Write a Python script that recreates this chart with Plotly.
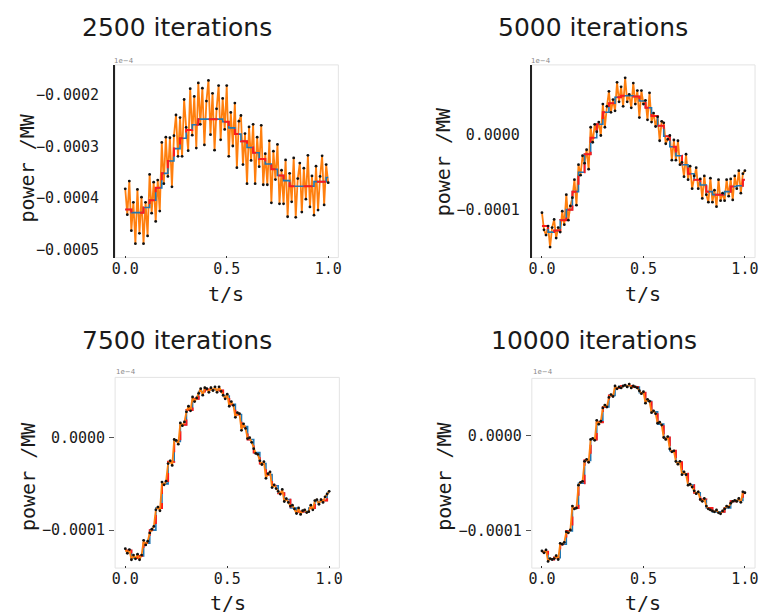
import plotly.graph_objects as go

# ---------------- data (power in 1e-6 MW units) ----------------
T = [0.00, 0.01, 0.02, 0.03, 0.04, 0.05, 0.06, 0.07, 0.08, 0.09,
     0.10, 0.11, 0.12, 0.13, 0.14, 0.15, 0.16, 0.17, 0.18, 0.19,
     0.20, 0.21, 0.22, 0.23, 0.24, 0.25, 0.26, 0.27, 0.28, 0.29,
     0.30, 0.31, 0.32, 0.33, 0.34, 0.35, 0.36, 0.37, 0.38, 0.39,
     0.40, 0.41, 0.42, 0.43, 0.44, 0.45, 0.46, 0.47, 0.48, 0.49,
     0.50, 0.51, 0.52, 0.53, 0.54, 0.55, 0.56, 0.57, 0.58, 0.59,
     0.60, 0.61, 0.62, 0.63, 0.64, 0.65, 0.66, 0.67, 0.68, 0.69,
     0.70, 0.71, 0.72, 0.73, 0.74, 0.75, 0.76, 0.77, 0.78, 0.79,
     0.80, 0.81, 0.82, 0.83, 0.84, 0.85, 0.86, 0.87, 0.88, 0.89,
     0.90, 0.91, 0.92, 0.93, 0.94, 0.95, 0.96, 0.97, 0.98, 0.99,
     1.00]

TRUE_2500_UW = [-422, -422, -422, -428, -428, -428, -428, -428, -428, -418,
                -418, -418, -404, -404, -404, -380, -380, -380, -352, -352,
                -352, -328, -328, -328, -304, -304, -304, -284, -284, -284,
                -268, -268, -268, -258, -258, -258, -247, -247, -247, -247,
                -247, -247, -247, -247, -247, -247, -247, -247, -252, -252,
                -252, -264, -264, -264, -276, -276, -276, -290, -290, -290,
                -302, -302, -302, -312, -312, -312, -324, -324, -324, -334,
                -334, -334, -344, -344, -344, -356, -356, -356, -366, -366,
                -366, -377, -377, -377, -377, -377, -377, -377, -377, -377,
                -377, -377, -377, -368, -368, -368, -368, -368, -368, -360,
                -360]

NOISY_2500_UW = [-382, -432, -367, -463, -408, -488, -383, -468, -398, -488,
                 -408, -473, -354, -429, -369, -445, -365, -425, -292, -372,
                 -282, -358, -283, -378, -279, -239, -319, -244, -319, -209,
                 -263, -308, -188, -278, -203, -303, -177, -257, -187, -297,
                 -212, -172, -277, -197, -307, -227, -182, -287, -207, -267,
                 -182, -319, -234, -299, -216, -341, -251, -240, -335, -275,
                 -372, -262, -327, -257, -372, -282, -339, -259, -374, -314,
                 -374, -289, -409, -309, -364, -296, -411, -346, -411, -326,
                 -436, -352, -407, -322, -437, -362, -332, -427, -342, -402,
                 -317, -417, -357, -433, -338, -423, -358, -318, -413, -335,
                 -370]

TRUE_UW = [-122, -122, -122, -130, -130, -130, -128, -128, -128, -114,
           -114, -114, -100, -100, -100, -76, -76, -76, -50, -50,
           -50, -26, -26, -26, -4, -4, -4, 14, 14, 14,
           30, 30, 30, 42, 42, 42, 50, 50, 50, 52,
           52, 52, 52, 52, 52, 51, 51, 51, 45, 45,
           45, 36, 36, 36, 25, 25, 25, 12, 12, 12,
           -2, -2, -2, -16, -16, -16, -28, -28, -28, -40,
           -40, -40, -52, -52, -52, -60, -60, -60, -67, -67,
           -67, -76, -76, -76, -80, -80, -80, -80, -80, -80,
           -76, -76, -76, -69, -69, -69, -68, -68, -68, -60,
           -60]

NOISY_5000_UW = [-104, -127, -134, -122, -150, -124, -113, -138, -124, -130,
                 -102, -120, -80, -114, -95, -84, -60, -94, -40, -54,
                 -28, -38, -20, -46, 10, -10, 14, 4, 17, -1,
                 41, 10, 38, 58, 30, 47, 32, 70, 44, 64,
                 38, 76, 44, 54, 36, 69, 41, 59, 23, 59,
                 41, 46, 20, 56, 17, 29, 11, 24, -8, 18,
                 16, -12, -6, -1, -34, -7, -34, -8, -40, -37,
                 -56, -26, -60, -42, -72, -55, -44, -72, -59, -85,
                 -55, -80, -90, -58, -90, -74, -96, -60, -88, -78,
                 -88, -60, -82, -59, -87, -55, -72, -48, -78, -52,
                 -48]

NOISY_7500_UW = [-120, -125, -121, -132, -127, -131, -126, -132, -127, -111,
                 -116, -112, -103, -99, -96, -78, -75, -79, -48, -51,
                 -47, -28, -25, -30, -2, -3, -7, 16, 13, 17,
                 28, 34, 29, 44, 39, 43, 48, 53, 46, 54,
                 53, 49, 54, 51, 55, 49, 55, 50, 46, 42,
                 47, 34, 39, 35, 22, 27, 26, 8, 15, 10,
                 -1, 0, -5, -12, -17, -18, -25, -29, -26, -44,
                 -39, -37, -54, -51, -55, -58, -61, -56, -69, -66,
                 -70, -74, -73, -77, -82, -76, -83, -79, -78, -81,
                 -80, -73, -78, -68, -67, -72, -67, -70, -64, -61,
                 -58]

NOISY_10000_UW = [-121, -123, -120, -132, -129, -130, -129, -126, -130, -113,
                  -114, -112, -101, -102, -99, -74, -77, -76, -52, -49,
                  -48, -27, -25, -28, -4, -3, -5, 16, 12, 15,
                  29, 32, 30, 40, 43, 41, 52, 49, 51, 50,
                  52, 53, 51, 54, 50, 52, 51, 50, 47, 44,
                  46, 34, 38, 36, 24, 26, 23, 13, 14, 11,
                  -2, -4, -1, -14, -17, -16, -27, -30, -27, -41,
                  -38, -41, -52, -51, -54, -58, -61, -59, -67, -69,
                  -66, -74, -77, -78, -79, -80, -78, -81, -82, -79,
                  -77, -74, -75, -71, -69, -68, -69, -66, -70, -59,
                  -60]

TITLES = ["2500 iterations", "5000 iterations", "7500 iterations", "10000 iterations"]
Y_TICKS = [[-0.0002, -0.0003, -0.0004, -0.0005], [0.0, -0.0001], [0.0, -0.0001], [0.0, -0.0001]]
X_TICKS = [0.0, 0.5, 1.0]
X_LABEL = "t/s"
Y_LABEL = "power /MW"
OFFSET_TEXT = "1e\u22124"

for arr in (TRUE_2500_UW, NOISY_2500_UW, TRUE_UW, NOISY_5000_UW, NOISY_7500_UW, NOISY_10000_UW):
    assert len(arr) == len(T), len(arr)

UNIT = 1e-6
series = [
    (TRUE_2500_UW, NOISY_2500_UW),
    (TRUE_UW, NOISY_5000_UW),
    (TRUE_UW, NOISY_7500_UW),
    (TRUE_UW, NOISY_10000_UW),
]

# ---------------- layout geometry (pixels) ----------------
W, H = 764, 614
boxes = [  # x0, x1, ytop, ybottom
    (113, 338, 65, 258),
    (533, 758, 65, 258),
    (113, 339, 378, 569),
    (533, 758, 379, 569),
]
y_ranges = [(-0.000515, -0.000142), (-0.000164, 0.0000933), (-0.000141, 0.0000652), (-0.000139, 0.0000600)]
title_pos = [(175, 28), (595, 28), (175, 341), (596, 341)]
ylabel_pos = [(24, 168), (443, 162), (25, 477), (445, 477)]
xlabel_pos = [(225, 294), (645, 294), (227, 604), (645, 604)]
offset_pos = [(122, 61), (542, 61), (124, 373), (544, 373)]

fig = go.Figure()
annotations = []
shapes = []

for i, ((tr, nz), (x0, x1, yt, yb)) in enumerate(zip(series, boxes)):
    k = "" if i == 0 else str(i + 1)
    xa, ya = "x" + k, "y" + k
    true_v = [v * UNIT for v in tr]
    noisy_v = [v * UNIT for v in nz]

    true_traces = [
        go.Scatter(x=T, y=true_v, mode="lines", line=dict(color="#1f77b4", width=1.6, shape="hv"),
                   xaxis=xa, yaxis=ya, showlegend=False),
        go.Scatter(x=T, y=true_v, mode="lines", line=dict(color="#ff1a1a", width=2, shape="hv", dash="dash"),
                   xaxis=xa, yaxis=ya, showlegend=False),
    ]
    noisy_line = go.Scatter(x=T, y=noisy_v, mode="lines", line=dict(color="#ff7f0e", width=1.8),
                            xaxis=xa, yaxis=ya, showlegend=False)
    dots = go.Scatter(x=T, y=noisy_v, mode="markers", marker=dict(color="#111111", size=2.8),
                      xaxis=xa, yaxis=ya, showlegend=False)
    if i < 2:
        order = [noisy_line] + true_traces + [dots]
    else:
        order = true_traces + [noisy_line, dots]
    for tr_ in order:
        fig.add_trace(tr_)

    dark_spine = i < 2
    fig.layout["xaxis" + k] = dict(
        domain=[x0 / W, x1 / W], anchor=ya, range=[-0.05, 1.05],
        tickvals=X_TICKS, ticktext=["0.0", "0.5", "1.0"],
        showgrid=False, zeroline=False, showline=False,
        ticks="inside", ticklen=2, tickcolor="#333333",
        ticklabelstandoff=0,
        tickfont=dict(family="DejaVu Sans Mono", size=15, color="#1a1a1a"),
    )
    fig.layout["yaxis" + k] = dict(
        domain=[1 - yb / H, 1 - yt / H], anchor=xa, range=list(y_ranges[i]),
        tickvals=Y_TICKS[i], tickformat=".4f",
        showgrid=False, zeroline=False,
        showline=dark_spine, linecolor="#222222", linewidth=2,
        ticks="outside", ticklen=0 if dark_spine else 5,
        tickcolor="#555555",
        ticklabelstandoff=11 if i == 0 else (7 if i == 1 else 1),
        tickfont=dict(family="DejaVu Sans Mono", size=15, color="#1a1a1a"),
    )
    shapes.append(dict(type="rect", xref=xa + " domain", yref=ya + " domain", x0=0, x1=1, y0=0, y1=1,
                       line=dict(color="#e3e3e3", width=1), layer="below"))

    tx, ty = title_pos[i]
    annotations.append(dict(text=TITLES[i], x=tx / W, y=1 - ty / H, xref="paper", yref="paper",
                            showarrow=False, xanchor="center", yanchor="middle",
                            font=dict(family="DejaVu Sans", size=25, color="#1a1a1a")))
    lx, ly = ylabel_pos[i]
    annotations.append(dict(text=Y_LABEL, x=lx / W, y=1 - ly / H, xref="paper", yref="paper",
                            showarrow=False, textangle=-90, xanchor="center", yanchor="middle",
                            font=dict(family="DejaVu Sans Mono", size=20, color="#1a1a1a")))
    bx, by = xlabel_pos[i]
    annotations.append(dict(text=X_LABEL, x=bx / W, y=1 - by / H, xref="paper", yref="paper",
                            showarrow=False, xanchor="center", yanchor="middle",
                            font=dict(family="DejaVu Sans Mono", size=20, color="#1a1a1a")))
    ox, oy = offset_pos[i]
    annotations.append(dict(text=OFFSET_TEXT, x=ox / W, y=1 - oy / H, xref="paper", yref="paper",
                            showarrow=False, xanchor="center", yanchor="middle",
                            font=dict(family="DejaVu Sans", size=7, color="#888888")))

fig.update_layout(
    width=W, height=H, margin=dict(l=0, r=0, t=0, b=0),
    paper_bgcolor="white", plot_bgcolor="white",
    annotations=annotations, shapes=shapes, showlegend=False,
)

fig.write_html("out.html")
